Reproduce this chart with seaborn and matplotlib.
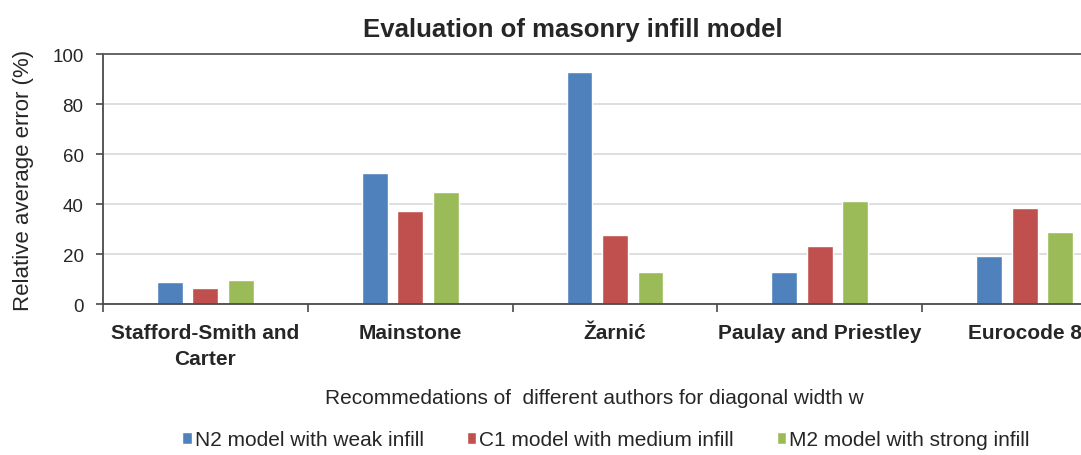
import numpy as np
import pandas as pd
import matplotlib
matplotlib.use("Agg")
import matplotlib.pyplot as plt
import seaborn as sns

# chart data
authors = ["Stafford-Smith and\nCarter", "Mainstone", "Žarnić",
           "Paulay and Priestley", "Eurocode 8"]
models = ["N2 model with weak infill", "C1 model with medium infill",
          "M2 model with strong infill"]
n2_weak = [8.7, 52.6, 92.7, 12.7, 19.3]
c1_medium = [6.3, 37.3, 27.6, 23.1, 38.3]
m2_strong = [9.6, 44.9, 12.9, 41.1, 28.7]
colors = ["#4F81BD", "#C0504D", "#9BBB59"]

df = pd.DataFrame({
    "author": authors * 3,
    "model": [models[0]] * 5 + [models[1]] * 5 + [models[2]] * 5,
    "error": n2_weak + c1_medium + m2_strong,
})

sns.set_style("white")
plt.rcParams["font.family"] = ["Liberation Sans", "DejaVu Sans"]

fig = plt.figure(figsize=(10.81, 4.56), dpi=100)
ax = fig.add_axes([103 / 1081, 1 - 305 / 456, 1 - 103 / 1081, 250 / 456])

sns.barplot(data=df, x="author", y="error", hue="model", hue_order=models,
            palette=colors, width=0.52, gap=0.27, saturation=1,
            errorbar=None, ax=ax)

ax.set_yticks(np.arange(0, 101, 20))
ax.set_xticks(np.arange(-0.5, 4.6, 1.0), minor=True)
# the chart is cut off at the right edge, so the last category is not complete
ax.set_xlim(-0.5, -0.5 + 978 / 204.8)
ax.set_ylim(0, 100)
ax.yaxis.grid(True, color="#d9d9d9", linewidth=1.2)
ax.set_axisbelow(True)

for side in ["left", "bottom", "top"]:
    ax.spines[side].set_visible(True)
    ax.spines[side].set_color("#4a4a4a")
    ax.spines[side].set_linewidth(1.3)
ax.spines["right"].set_visible(False)
ax.spines["top"].set_color("#5a5a5a")

ax.tick_params(axis="y", which="major", left=True, length=5, width=1.2,
               color="#4a4a4a", pad=9, labelsize=13.5)
ax.tick_params(axis="x", which="major", length=0, pad=14, labelsize=15)
ax.tick_params(axis="x", which="minor", bottom=True, length=6, width=1.2,
               color="#4a4a4a")
for lab in ax.get_xticklabels():
    lab.set_fontweight("bold")
    lab.set_linespacing(1.45)

ax.set_xlabel("")
ax.set_ylabel("Relative average error (%)", fontsize=16)
ax.yaxis.set_label_coords((34 - 103) / 978, 0.5)

fig.text(573 / 1081, 1 - 37 / 456, "Evaluation of masonry infill model",
         ha="center", va="baseline", fontsize=18.5, fontweight="bold")
fig.text(594 / 1081, 1 - 399 / 456,
         "Recommedations of  different authors for diagonal width w",
         ha="center", va="center", fontsize=15)

handles, labels = ax.get_legend_handles_labels()
ax.legend(handles, labels, loc="center", ncol=3, frameon=False,
          bbox_to_anchor=(606 / 1081, 1 - 441 / 456),
          bbox_transform=fig.transFigure, fontsize=15,
          handlelength=0.45, handleheight=0.45, handletextpad=0.15,
          columnspacing=2.05, borderpad=0)

fig.savefig("out.png", dpi=100)
